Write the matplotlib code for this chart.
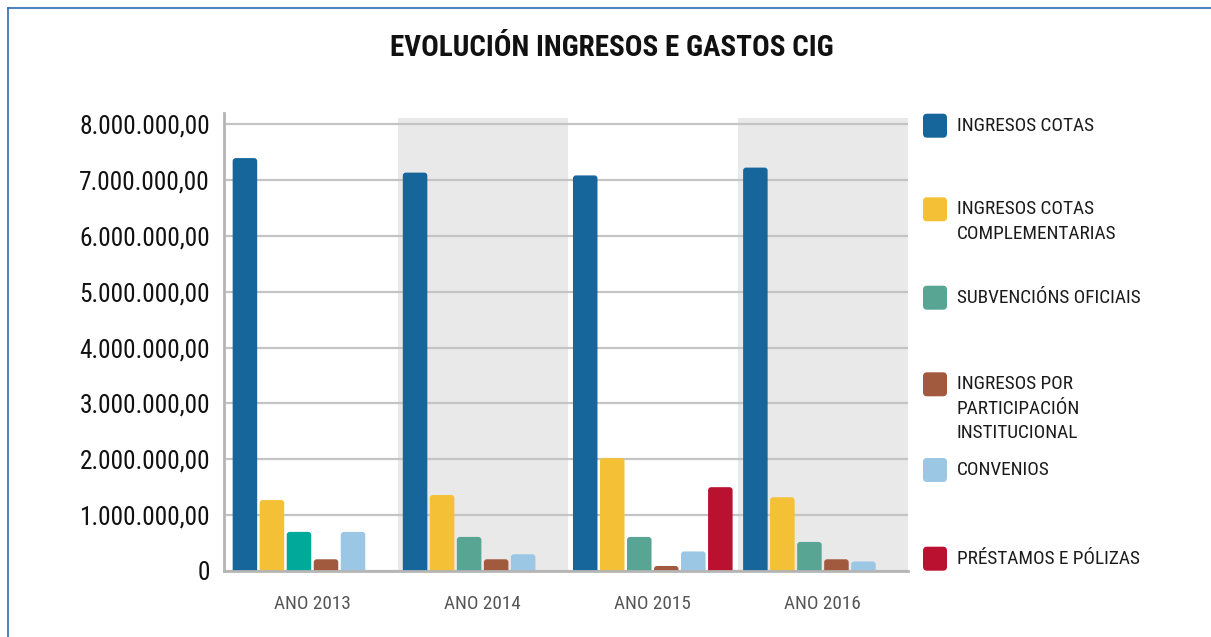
import matplotlib
matplotlib.use("Agg")
import os
import matplotlib.pyplot as plt
from matplotlib.patches import FancyBboxPatch
from matplotlib.lines import Line2D
from matplotlib import font_manager
from matplotlib.font_manager import FontProperties

# ---------------- data ----------------
years = ["ANO 2013", "ANO 2014", "ANO 2015", "ANO 2016"]
series_labels = [
    "INGRESOS COTAS",
    "INGRESOS COTAS\nCOMPLEMENTARIAS",
    "SUBVENCIÓNS OFICIAIS",
    "INGRESOS POR\nPARTICIPACIÓN\nINSTITUCIONAL",
    "CONVENIOS",
    "PRÉSTAMOS E PÓLIZAS",
]
ingresos_cotas = [7390000, 7130000, 7080000, 7220000]
ingresos_cotas_compl = [1270000, 1360000, 2020000, 1320000]
subvencions = [700000, 610000, 610000, 520000]
participacion = [210000, 210000, 90000, 210000]
convenios = [700000, 300000, 350000, 170000]
prestamos = [0, 0, 1500000, 0]
series_values = [ingresos_cotas, ingresos_cotas_compl, subvencions,
                 participacion, convenios, prestamos]
yticks = [0, 1000000, 2000000, 3000000, 4000000, 5000000, 6000000, 7000000, 8000000]
title = "EVOLUCIÓN INGRESOS E GASTOS CIG"

# ---------------- style ----------------
colors = ["#16669c", "#f4c136", "#58a593", "#a25a3e", "#9bc7e4", "#bb1131"]
bar_color_override = {(2, 0): "#00a99a"}


def _weight(w):
    if isinstance(w, str):
        return font_manager.weight_dict.get(w.lower(), 400)
    return int(w)


def find_condensed(bold):
    fams = ["roboto", "liberation", "noto sans", "open sans", "dejavu", "lato", "inter"]
    best = None
    for f in font_manager.fontManager.ttflist:
        fn = os.path.basename(f.fname).lower()
        name = f.name.lower()
        cond = ("narrow" in fn or "condensed" in fn or "narrow" in name
                or "condensed" in name or f.stretch in ("condensed", "semi-condensed"))
        if not cond or f.style != "normal":
            continue
        if "mono" in fn or "serif" in fn.replace("sans", ""):
            continue
        w = _weight(f.weight)
        if bold and w != 700:
            continue
        if not bold and w != 400:
            continue
        rank = len(fams)
        for i, fam in enumerate(fams):
            if fam in name or fam.replace(" ", "") in fn:
                rank = i
                break
        pen = 0
        if "extracondensed" in fn or "ultracondensed" in fn:
            pen = 20
        elif "semicondensed" in fn:
            pen = 10
        key = (rank + pen, fn)
        if best is None or key < best[0]:
            best = (key, f.fname)
    return best[1] if best else None


reg_path = find_condensed(False)
bold_path = find_condensed(True)
condensed = reg_path is not None
if condensed:
    fp_reg = lambda s: FontProperties(fname=reg_path, size=s)
else:
    fp_reg = lambda s: FontProperties(family="DejaVu Sans", size=s)
if bold_path:
    fp_bold = lambda s: FontProperties(fname=bold_path, size=s)
else:
    fp_bold = lambda s: FontProperties(family="DejaVu Sans", weight="bold", size=s)

sz_ytick = 18.3 if condensed else 15
sz_xtick = 13.8 if condensed else 11.5
sz_leg = 13.9 if condensed else 12.5
sz_title = 21 if bold_path else 18

W, H = 1211, 637
fig = plt.figure(figsize=(W / 100, H / 100), dpi=100)
fig.patch.set_facecolor("white")

ax_left, ax_right, ax_bottom, ax_top = 224, 908, 571, 113
ax = fig.add_axes([ax_left / W, 1 - ax_bottom / H,
                   (ax_right - ax_left) / W, (ax_bottom - ax_top) / H])

ymax = 8.197e6
ax.set_ylim(0, ymax)
ax.set_xlim(-0.52, 3.5)

band_top = 8.107e6 / ymax
for g in range(len(years)):
    if g % 2 == 1:
        ax.axvspan(g - 0.5, g + 0.5, ymin=0, ymax=band_top,
                   color="#e9e9e9", zorder=0, lw=0)


def fmt(v):
    if v == 0:
        return "0"
    return f"{int(round(v)):,}".replace(",", ".") + ",00"


ax.set_yticks(yticks, [fmt(v) for v in yticks],
              fontproperties=fp_reg(sz_ytick), color="#111111")
ax.yaxis.grid(True, color="#c4c4c4", lw=1.6, zorder=1)
ax.set_axisbelow(True)

pitch = 27 / 170
bw = 24.5 / 170
n = len(series_values)
px_per_x = (ax_right - ax_left) / (3.5 + 0.52)
px_per_y = (ax_bottom - ax_top) / ymax
r = 3.0 / px_per_x
aspect = (3.0 / px_per_y) / r
for k, vals in enumerate(series_values):
    xs = [g + (k - (n - 1) / 2) * pitch for g in range(len(years))]
    bars = ax.bar(xs, vals, width=bw, color=colors[k], visible=False)
    for g, rect in enumerate(bars):
        h = rect.get_height()
        if h <= 0:
            continue
        x0, y0 = rect.get_xy()
        ext = r * aspect
        c = bar_color_override.get((k, g), colors[k])
        p = FancyBboxPatch((x0, y0 - ext), rect.get_width(), h + ext,
                           boxstyle=f"round,pad=0,rounding_size={r}",
                           mutation_aspect=aspect, fc=c, ec="none",
                           zorder=3, clip_on=True)
        ax.add_patch(p)

for s in ["top", "right"]:
    ax.spines[s].set_visible(False)
for s in ["left", "bottom"]:
    ax.spines[s].set_color("#b5b5b5")
    ax.spines[s].set_linewidth(2)
    ax.spines[s].set_zorder(4)
ax.set_facecolor("white")

ax.tick_params(axis="y", length=0, pad=10)
ax.set_xticks(range(len(years)), years,
              fontproperties=fp_reg(sz_xtick), color="#555555")
ax.tick_params(axis="x", length=0, pad=17)

fig.text(612 / W, 1 - 48 / H, title, ha="center", va="center",
         fontproperties=fp_bold(sz_title), color="#111111")

leg_centers = [125.7, 209.3, 297.7, 384.3, 470.0, 558.7]
sq = 24
line_h = 24.5
for k, lab in enumerate(series_labels):
    cy = leg_centers[k]
    x0 = 923 / W
    y0 = 1 - (cy + sq / 2) / H
    p = FancyBboxPatch((x0, y0), sq / W, sq / H,
                       boxstyle=f"round,pad=0,rounding_size={4 / W}",
                       mutation_aspect=W / H,
                       transform=fig.transFigure, fc=colors[k], ec="none")
    fig.patches.append(p)
    for i, line in enumerate(lab.split("\n")):
        fig.text(957 / W, 1 - (cy + i * line_h) / H, line, ha="left",
                 va="center", fontproperties=fp_reg(sz_leg), color="#1a1a1a")

fig.add_artist(Line2D([7.5 / W, 7.5 / W], [0, 1 - 8 / H],
                      transform=fig.transFigure, color="#2b6cae", lw=1.2))
fig.add_artist(Line2D([7.5 / W, 1], [1 - 8 / H, 1 - 8 / H],
                      transform=fig.transFigure, color="#2b6cae", lw=1.2))

fig.savefig("out.png", dpi=100)
